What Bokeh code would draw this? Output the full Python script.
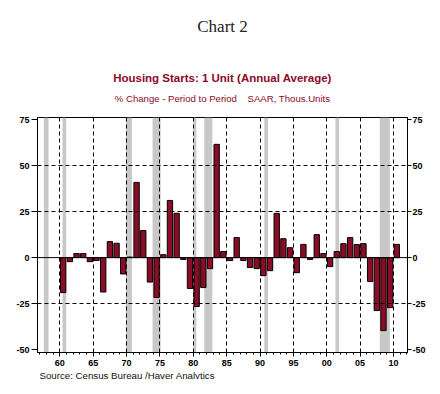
from bokeh.plotting import figure
from bokeh.models import Range1d, LinearAxis, FixedTicker, BoxAnnotation, Span, Title, ColumnDataSource
from bokeh.transform import dodge
from bokeh.embed import file_html
from bokeh.resources import INLINE

# ---- data ----
years = list(range(1960, 2011))
pct_change = [-19.0, -2.2, 2.2, 2.2, -2.2, -1.5, -18.7, 8.7, 7.8, -8.9,
              0.3, 40.9, 14.7, -13.3, -21.7, 1.6, 31.1, 24.1, -1.0, -16.8,
              -26.6, -16.3, -6.0, 61.6, 3.3, -1.6, 10.9, -1.6, -5.4, -6.0,
              -9.8, -7.1, 24.1, 10.3, 5.4, -8.2, 7.2, -1.0, 12.5, 2.2,
              -4.9, 3.3, 7.6, 10.9, 7.1, 7.6, -13.0, -28.8, -39.7, -27.2,
              7.2]
rec_start = [1957.6, 1960.4, 1969.9, 1973.9, 1980.0, 1981.65, 1990.65, 2001.3, 2007.95]
rec_end = [1958.3, 1960.95, 1970.8, 1975.1, 1980.45, 1982.85, 1991.2, 2001.85, 2009.45]
x_ticks = [1960, 1965, 1970, 1975, 1980, 1985, 1990, 1995, 2000, 2005, 2010]
x_tick_labels = ["60", "65", "70", "75", "80", "85", "90", "95", "00", "05", "10"]
x_minor = list(range(1957, 2013))
y_ticks = [-50, -25, 0, 25, 50, 75]
y_tick_labels = ["-50", "-25", "0", "25", "50", "75"]
y_grid = [-25, 25, 50]

title_main = "Chart 2"
title_series = "Housing Starts: 1 Unit (Annual Average)"
title_units = "% Change - Period to Period \u00a0\u00a0\u00a0SAAR, Thous.Units"
source_text = "Source:  Census Bureau /Haver Analytics"

BAR = "#8c0c26"
RED = "#8b0a28"
SANS = "Liberation Sans"

src = ColumnDataSource(dict(year=years, val=pct_change))

p = figure(frame_width=370, frame_height=235, output_backend="svg", toolbar_location=None,
           title=None,
           x_range=Range1d(1956.65, 2012.1), y_range=Range1d(-51.6, 76.2),
           min_border_left=0, min_border_right=0, min_border_top=0,
           min_border_bottom=0)
p.background_fill_color = "white"
p.border_fill_color = "white"
p.outline_line_color = "black"
p.outline_line_width = 1

# recession bands
for s, e in zip(rec_start, rec_end):
    p.add_layout(BoxAnnotation(left=s, right=e, fill_color="#c8c8c8", fill_alpha=1.0,
                               line_color=None, level="underlay"))

# grids
p.xgrid.ticker = FixedTicker(ticks=x_ticks)
p.ygrid.ticker = FixedTicker(ticks=y_grid)
for g in (p.xgrid, p.ygrid):
    g.grid_line_color = "black"
    g.grid_line_dash = "4 3"
    g.grid_line_width = 1
    g.level = "glyph"

p.add_layout(Span(location=0, dimension="width", line_color="black", line_width=1, level="glyph"))

p.vbar(x=dodge("year", 0.5, range=p.x_range), top="val", bottom=0, width=0.8, source=src,
       fill_color=BAR, line_color="black", line_width=1)

# axes
xa = p.xaxis[0]
xa.ticker = FixedTicker(ticks=x_ticks, minor_ticks=x_minor)
xa.major_label_overrides = dict(zip(x_ticks, x_tick_labels))
xa.major_tick_out = 4
xa.major_tick_in = 0
xa.minor_tick_out = 2
xa.minor_tick_in = 0
xa.major_label_standoff = 3
xa.axis_label = None

ya = p.yaxis[0]
yr = LinearAxis()
p.add_layout(yr, "right")
for a in (ya, yr):
    a.ticker = FixedTicker(ticks=y_ticks, minor_ticks=[])
    a.major_label_overrides = dict(zip(y_ticks, y_tick_labels))
    a.major_tick_in = 0
    a.minor_tick_out = 0
    a.minor_tick_in = 0
    a.major_label_orientation = "horizontal"
ya.major_tick_out = 6
ya.major_label_standoff = 2
# blank axis label only pads the left margin
ya.axis_label = " "
ya.axis_label_text_font_size = "1px"
ya.axis_label_standoff = 9
yr.major_tick_out = 4
yr.major_label_standoff = 1
yr.axis_label = None
for a in (xa, ya, yr):
    a.major_label_text_font = SANS
    a.major_label_text_font_style = "bold"
    a.major_label_text_font_size = "9px"
    a.major_label_text_color = "black"
    a.axis_line_color = "black"
    a.major_tick_line_color = "black"
    a.minor_tick_line_color = "black"

# titles (first added is nearest the frame)
p.add_layout(Title(text=title_units, align="center", text_font=SANS, text_font_size="9.6px",
                   text_font_style="normal", text_color=RED, standoff=28), "above")
p.add_layout(Title(text=title_series, align="center", text_font=SANS, text_font_size="11.5px",
                   text_font_style="bold", text_color=RED, standoff=-15), "above")
# blank spacer title (white on white) to open the gap below the main title
p.add_layout(Title(text="\u00a0", align="center", text_font=SANS, text_font_size="10px",
                   text_color="white", standoff=14), "above")
p.add_layout(Title(text=title_main, align="center", text_font="Liberation Serif",
                   text_font_size="17px", text_font_style="normal", text_color="#222222",
                   standoff=28), "above")
p.add_layout(Title(text=source_text, align="left", text_font=SANS, text_font_size="9.7px",
                   text_font_style="normal", text_color="#111111", standoff=-2, offset=2), "below")

open("out.html", "w").write(file_html(p, INLINE))
